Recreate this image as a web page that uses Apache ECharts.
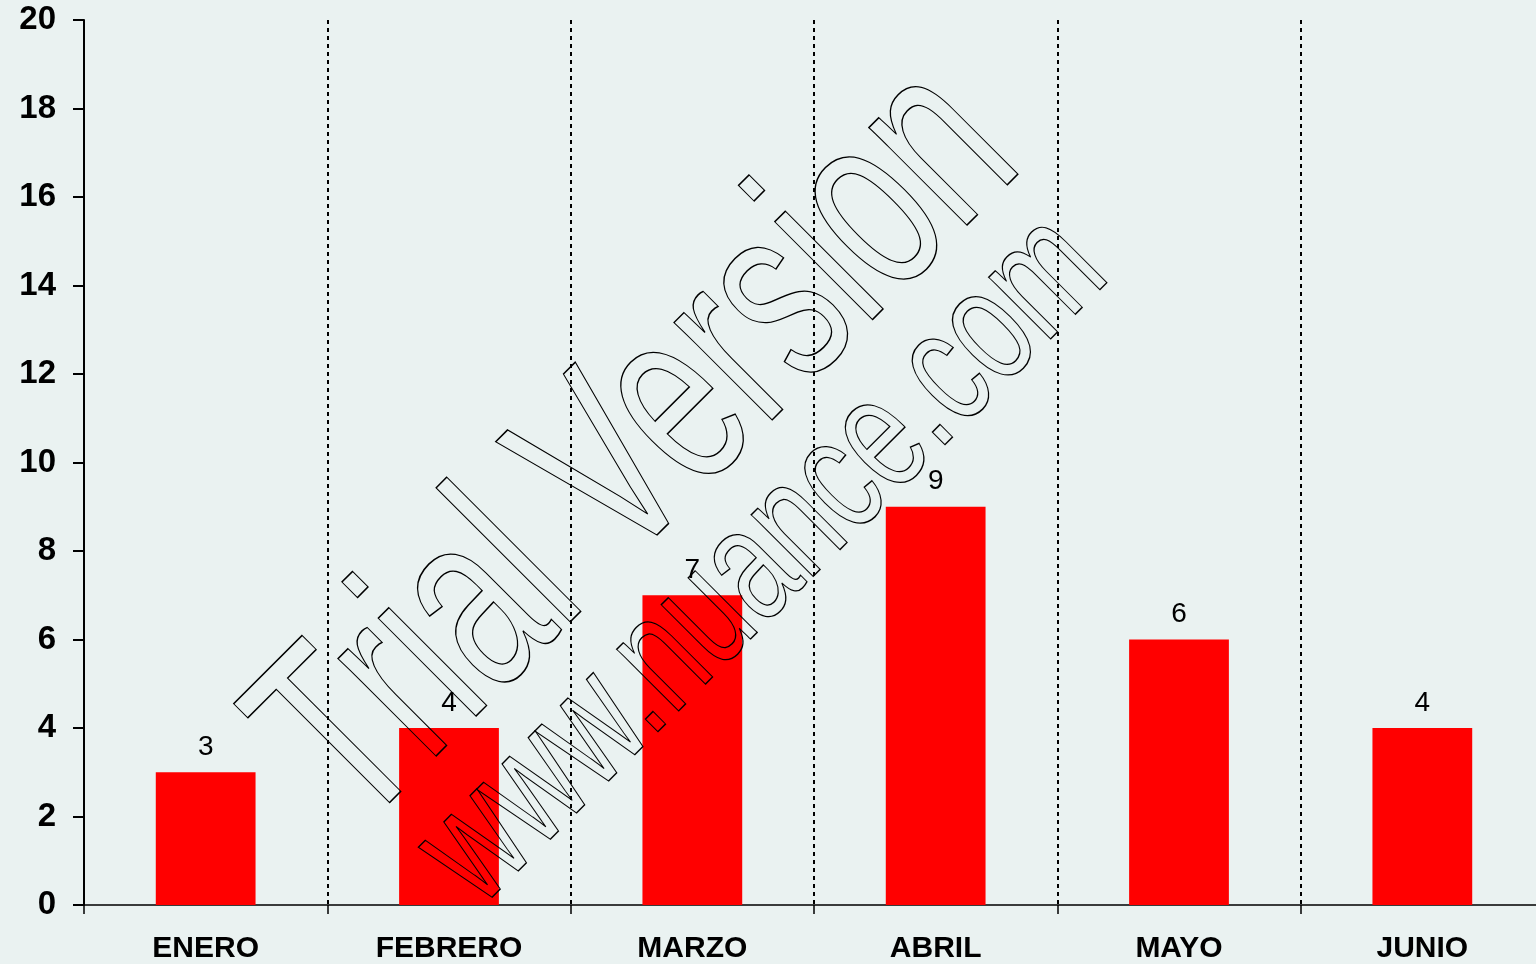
<!DOCTYPE html>
<html>
<head>
<meta charset="utf-8">
<script src="https://cdn.jsdelivr.net/npm/echarts@6/dist/echarts.min.js"></script>
<style>
html,body{margin:0;padding:0;background:#EAF2F1;}
#chart{width:1536px;height:964px;}
</style>
</head>
<body>
<div id="chart"></div>
<script>
var categories = ['ENERO', 'FEBRERO', 'MARZO', 'ABRIL', 'MAYO', 'JUNIO'];
var values = [3, 4, 7, 9, 6, 4];
var yMin = 0, yMax = 20, yStep = 2;
var watermarkLines = ['Trial Version', 'www.nuance.com'];

var chart = echarts.init(document.getElementById('chart'));
var FONT = '"Liberation Sans", Arial, sans-serif';
chart.setOption({
  backgroundColor: '#EAF2F1',
  animation: false,
  grid: { left: 84, right: -8, top: 20, bottom: 59, outerBoundsMode: 'none' },
  xAxis: {
    type: 'category',
    data: categories,
    axisLine: { show: true, lineStyle: { color: '#000', width: 1.5 } },
    axisTick: { show: true, length: 9, lineStyle: { color: '#000', width: 1.5 } },
    axisLabel: { color: '#000', fontFamily: FONT, fontWeight: 'bold', fontSize: 30, margin: 29 },
    splitLine: { show: true, lineStyle: { color: '#000', width: 2, type: [4, 4] } }
  },
  yAxis: {
    type: 'value',
    min: yMin, max: yMax, interval: yStep,
    axisLine: { show: true, lineStyle: { color: '#000', width: 2 } },
    axisTick: { show: true, length: 11, lineStyle: { color: '#000', width: 2 } },
    axisLabel: { color: '#000', fontFamily: FONT, fontWeight: 'bold', fontSize: 33, margin: 28 },
    splitLine: { show: false }
  },
  series: [{
    type: 'bar',
    data: values,
    barWidth: '41%',
    itemStyle: { color: '#FF0000' },
    label: { show: true, position: 'top', distance: 11, color: '#000', fontFamily: FONT, fontSize: 28 }
  }],
  graphic: [
    {
      type: 'text', z: 100, x: 641, y: 449, rotation: Math.PI / 4, scaleX: 1, scaleY: 1.53,
      style: {
        text: watermarkLines[0], font: '171px ' + FONT,
        fill: 'transparent', stroke: '#000', lineWidth: 1, strokeNoScale: true,
        align: 'center', verticalAlign: 'middle', textAlign: 'center', textVerticalAlign: 'middle'
      }
    },
    {
      type: 'text', z: 100, x: 764, y: 561, rotation: Math.PI / 4, scaleX: 1, scaleY: 1.45,
      style: {
        text: watermarkLines[1], font: '114px ' + FONT,
        fill: 'transparent', stroke: '#000', lineWidth: 1, strokeNoScale: true,
        align: 'center', verticalAlign: 'middle', textAlign: 'center', textVerticalAlign: 'middle'
      }
    }
  ]
});
</script>
</body>
</html>
